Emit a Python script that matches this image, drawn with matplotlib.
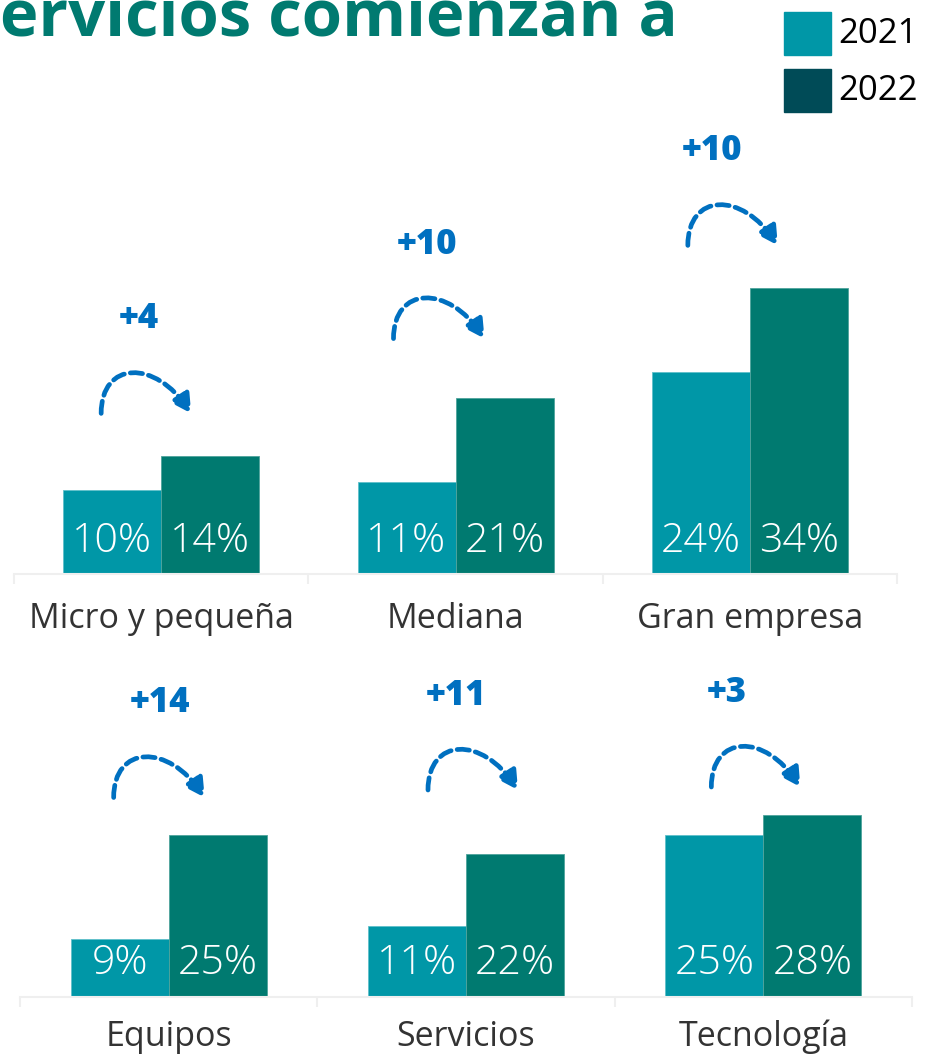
import matplotlib
matplotlib.use("Agg")
import matplotlib.pyplot as plt
import matplotlib.patches as patches
from matplotlib.path import Path

# datos
series = ["2021", "2022"]
tamano = ["Micro y pequeña", "Mediana", "Gran empresa"]
tamano_2021 = [10, 11, 24]
tamano_2022 = [14, 21, 34]
tamano_dif = [4, 10, 10]
tipo = ["Equipos", "Servicios", "Tecnología"]
tipo_2021 = [9, 11, 25]
tipo_2022 = [25, 22, 28]
tipo_dif = [14, 11, 3]
titulo = "ervicios comienzan a"

# colores
c21 = "#0097A7"
c22 = "#007A70"
c22_leyenda = "#004B57"
azul = "#0070C0"
gris = "#333333"
linea = "#EFEFEF"

plt.rcParams['font.family'] = ['Open Sans', 'DejaVu Sans']

W, H = 931, 1057
fig = plt.figure(figsize=(W / 100, H / 100), dpi=100)


def panel(x0, x1, y_base, alto, px_pct, cats, v21, v22, dif, arcos, dx_dif,
          baja_cat):
    ax = fig.add_axes([x0 / W, 1 - y_base / H, (x1 - x0) / W, alto / H])
    ax.set_xlim(-0.5, len(cats) - 0.5)
    ax.set_ylim(0, alto / px_pct)
    px_x = (x1 - x0) / len(cats)   # pixeles por categoria
    ancho = 98 / px_x

    xs = list(range(len(cats)))
    ax.bar([x - ancho / 2 for x in xs], v21, width=ancho, color=c21,
           edgecolor="#5FC0CA", linewidth=0.6)
    ax.bar([x + ancho / 2 for x in xs], v22, width=ancho, color=c22,
           edgecolor="#4FA39C", linewidth=0.6)

    for i, x in enumerate(xs):
        # etiquetas de valor
        for xb, v in ((x - ancho / 2, v21[i]), (x + ancho / 2, v22[i])):
            ax.text(xb, 33 / px_pct, f"{v}%", ha="center", va="center",
                    color="white", fontsize=29.5, fontweight="light")
        # nombre de categoria
        ax.text(x, -baja_cat / px_pct, cats[i], ha="center", va="center",
                color=gris, fontsize=24.5, clip_on=False)

        # flecha punteada (curva de izquierda a derecha)
        izq, der, sube = arcos[i]
        yb = max(v21[i], v22[i]) + sube / px_pct
        xl = x + izq / px_x
        xr = x + der / px_x
        w = xr - xl
        h = 42 / px_pct
        curva = Path([(xl, yb), (xl, yb + 1.25 * h),
                      (xr - 0.4 * w, yb + 1.3 * h), (xr, yb)],
                     [Path.MOVETO, Path.CURVE4, Path.CURVE4, Path.CURVE4])
        flecha = patches.FancyArrowPatch(
            path=curva,
            arrowstyle="-|>,head_length=0.55,head_width=0.3",
            mutation_scale=20, linestyle=(0, (2.6, 1.3)), linewidth=3.4,
            color=azul, clip_on=False)
        ax.add_patch(flecha)
        ax.text(x + dx_dif[i] / px_x, yb + 94 / px_pct, f"+{dif[i]}",
                ha="center", va="center", color=azul, fontsize=25,
                fontweight="heavy")

    for s in ["top", "left", "right"]:
        ax.spines[s].set_visible(False)
    ax.spines["bottom"].set_color(linea)
    ax.spines["bottom"].set_linewidth(1.5)
    ax.set_yticks([])
    ax.set_xticks([x - 0.5 for x in xs] + [len(cats) - 0.5])
    ax.set_xticklabels([])
    ax.tick_params(axis="x", length=7, width=1.5, color=linea)
    return ax


panel(14, 897, 574, 474, 8.4, tamano, tamano_2021, tamano_2022, tamano_dif,
      [(-60, 30, 43), (-62, 29, 59), (-62, 28, 43)], [-22, -28, -38], 45)
panel(20, 912, 997, 347, 6.5, tipo, tipo_2021, tipo_2022, tipo_dif,
      [(-55, 36, 37), (-38, 52, 64), (-52, 37, 28)], [-9, -10, -37], 40)

# titulo (recortado en el borde superior, como en el original)
fig.text(0, 1 - 36 / H, titulo, ha="left", va="baseline", color=c22,
         fontsize=47, fontweight="bold")

# leyenda
for j, (nombre, col) in enumerate(zip(series, [c21, c22_leyenda])):
    y_top = 12 + j * 57
    fig.patches.append(patches.Rectangle(
        (784 / W, 1 - (y_top + 43) / H), 47 / W, 43 / H,
        transform=fig.transFigure, color=col))
    fig.text(838 / W, 1 - (y_top + 22) / H, nombre, ha="left", va="center",
             color="black", fontsize=25)

fig.savefig("out.png", dpi=100)
